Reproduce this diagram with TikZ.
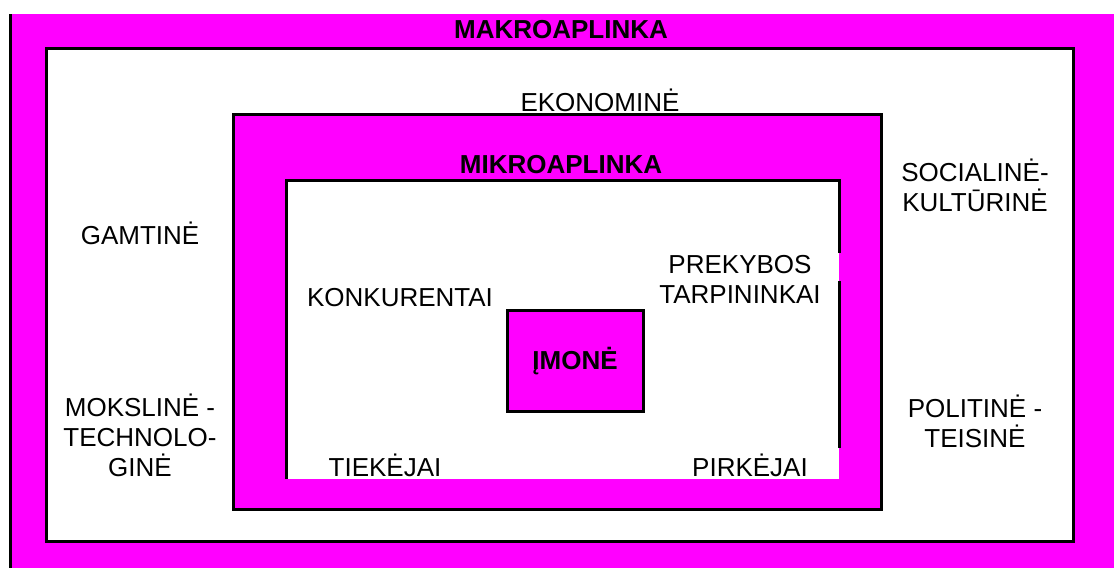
\documentclass[tikz,border=0pt]{standalone}
\usepackage{fontspec}
\setmainfont{Liberation Sans}
\definecolor{fuksija}{HTML}{FF00FF}

\begin{document}
\begin{tikzpicture}
[
x=1pt, y=-1pt,
every node/.style={font=\fontsize{26}{30}\selectfont, align=center, inner sep=2pt},
rem/.style={line width=3pt},
antr/.style={font=\fontsize{26}{30}\selectfont\bfseries},
imone/.style={rem, draw, fill=fuksija, minimum width=136pt, minimum height=101pt}
]
\useasboundingbox (0,0) rectangle (1114,568);

\fill[fuksija] (10,14) rectangle (1114,568);
\draw[rem] (10,14) -- (10,568);
\filldraw[rem, fill=white] (46,48) rectangle (1073,541);
\filldraw[rem, fill=fuksija] (233,114) rectangle (881,509);
\fill[white] (286,180) rectangle (839,479);
\draw[rem] (286,479) -- (286,180) -- (839,180) -- (839,253);
\draw[rem] (839,281) -- (839,448);

\node[antr] (makro) at (561,30) {MAKROAPLINKA};
\node (ekon) at (600,100) {EKONOMINĖ};
\node (gamt) at (140,233) {GAMTINĖ};
\node (soc) at (975,185) {SOCIALINĖ-\\KULTŪRINĖ};
\node (moksl) at (140,435) {MOKSLINĖ -\\TECHNOLO-\\GINĖ};
\node (polit) at (975,421) {POLITINĖ -\\TEISINĖ};

\node[antr] (mikro) at (561,165) {MIKROAPLINKA};
\node (konk) at (400,298) {KONKURENTAI};
\node (prek) at (740,279) {PREKYBOS\\TARPININKAI};
\node (tiek) at (385,465) {TIEKĖJAI};
\node (pirk) at (750,465) {PIRKĖJAI};

\node[imone, antr] (imone) at (575,361) {ĮMONĖ};
\end{tikzpicture}
\end{document}
